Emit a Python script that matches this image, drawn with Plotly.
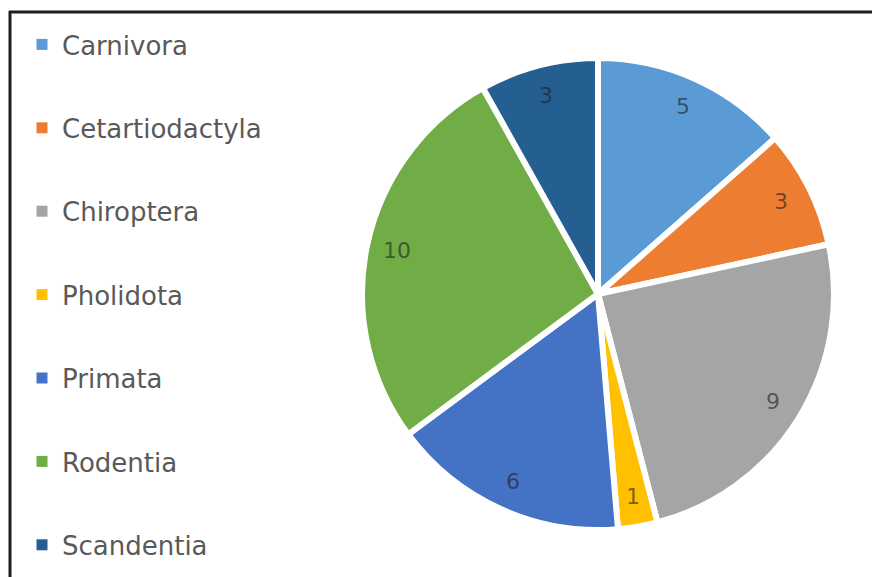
import math
import plotly.graph_objects as go

# Mammal orders and their counts
orders = ["Carnivora", "Cetartiodactyla", "Chiroptera", "Pholidota",
          "Primata", "Rodentia", "Scandentia"]
counts = [5, 3, 9, 1, 6, 10, 3]
colors = ["#5B9BD5", "#ED7D31", "#A5A5A5", "#FFC000",
          "#4472C4", "#70AD47", "#255E91"]

W, H = 872, 577
FONT = "DejaVu Sans"

# Pie placement in pixels (centre and radius)
cx, cy, rad = 598, 294, 236

fig = go.Figure()

fig.add_trace(go.Pie(
    labels=orders,
    values=counts,
    sort=False,
    direction="clockwise",
    rotation=0,
    marker=dict(colors=colors, line=dict(color="white", width=6)),
    textinfo="none",
    hoverinfo="label+value",
    showlegend=False,
    domain=dict(x=[(cx - rad) / W, (cx + rad) / W],
                y=[(H - cy - rad) / H, (H - cy + rad) / H]),
))

# Legend entries: one group per order so the groups can be spaced apart
for name, col in zip(orders, colors):
    fig.add_trace(go.Scatter(
        x=[None], y=[None], mode="markers", name=name,
        legendgroup=name,
        marker=dict(symbol="square", size=11, color=col),
    ))

# Value labels placed near the outer edge of each slice
total = sum(counts)
label_r = 0.87 * rad
annotations = []
cum = 0
for v in counts:
    theta = (cum + v / 2) / total * 2 * math.pi
    px = cx + label_r * math.sin(theta)
    py = cy - label_r * math.cos(theta)
    annotations.append(dict(
        x=px / W, y=1 - py / H, xref="paper", yref="paper",
        xanchor="center", yanchor="middle",
        text=str(v), showarrow=False,
        font=dict(family=FONT, size=22, color="rgba(30,30,30,0.62)"),
    ))
    cum += v

# Chart frame: top and left edges
shapes = [
    dict(type="line", xref="paper", yref="paper",
         x0=9 / W, x1=1.01, y0=1 - 12 / H, y1=1 - 12 / H,
         line=dict(color="#1e1e1e", width=3)),
    dict(type="line", xref="paper", yref="paper",
         x0=10 / W, x1=10 / W, y0=1 - 11 / H, y1=-0.01,
         line=dict(color="#1e1e1e", width=3)),
]

fig.update_layout(
    width=W, height=H,
    margin=dict(l=0, r=0, t=0, b=0),
    paper_bgcolor="white",
    plot_bgcolor="white",
    xaxis=dict(visible=False, domain=[0, 0.01]),
    yaxis=dict(visible=False),
    legend=dict(
        x=22 / W, y=1 - 21 / H, xanchor="left", yanchor="top",
        font=dict(family=FONT, size=26, color="#595959"),
        tracegroupgap=46.6,
        itemclick=False, itemdoubleclick=False,
        bgcolor="rgba(0,0,0,0)",
    ),
    annotations=annotations,
    shapes=shapes,
)

fig.write_html("out.html")
